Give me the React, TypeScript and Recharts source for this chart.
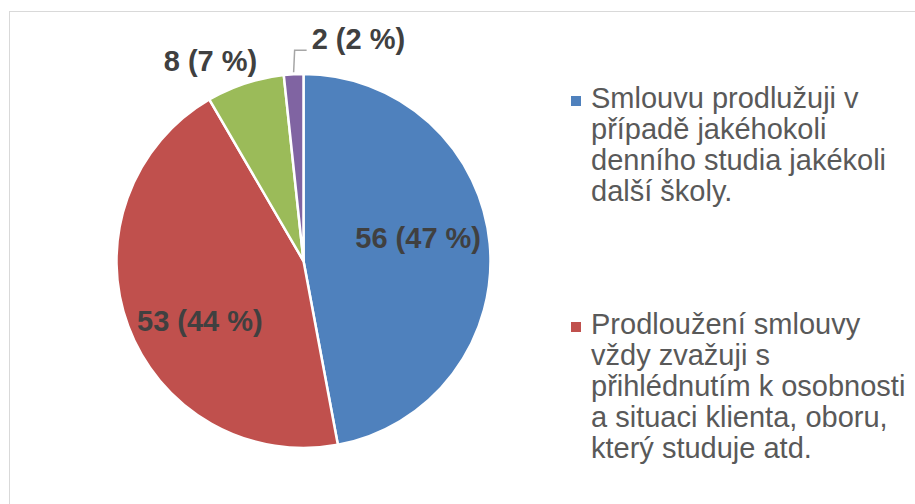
import React from 'react';
import { PieChart, Pie, Cell, Legend } from 'recharts';

// answers (only the first two legend entries are visible in the picture)
const categories = [
  'Smlouvu prodlužuji v případě jakéhokoli denního studia jakékoli další školy.',
  'Prodloužení smlouvy vždy zvažuji s přihlédnutím k osobnosti a situaci klienta, oboru, který studuje atd.',
  '',
  '',
];
const counts = [56, 53, 8, 2];
const colors = ['#4F81BD', '#C0504D', '#9BBB59', '#8064A2'];

// percentages rounded so that they add up to 100 (largest remainder)
const total = counts.reduce((s, v) => s + v, 0);
const raw = counts.map((v) => (v / total) * 100);
const pcts = raw.map(Math.floor);
raw
  .map((r, i) => ({ i, rem: r - Math.floor(r) }))
  .sort((a, b) => b.rem - a.rem)
  .slice(0, 100 - pcts.reduce((s, v) => s + v, 0))
  .forEach(({ i }) => (pcts[i] += 1));

const data = categories.map((name, i) => ({ name, value: counts[i], pct: pcts[i] }));

const FONT = '"Liberation Sans", Arial, sans-serif';
const RADIAN = Math.PI / 180;

const renderLabel = (props: any) => {
  const { cx, cy, midAngle, outerRadius, percent, value, index } = props;
  const text = `${value} (${pcts[index]} %)`;
  const style = { fontFamily: FONT, fontSize: 29, fontWeight: 700, fill: '#404040' };
  const ex = cx + outerRadius * Math.cos(-midAngle * RADIAN);
  const ey = cy + outerRadius * Math.sin(-midAngle * RADIAN);

  // big slices: label inside
  if (percent > 0.15) {
    const a = -(midAngle + 8) * RADIAN;
    const r = outerRadius * 0.63;
    return (
      <text key={`l-${index}`} x={cx + r * Math.cos(a)} y={cy + r * Math.sin(a)} dy={4}
        textAnchor="middle" dominantBaseline="central" {...style}>
        {text}
      </text>
    );
  }
  // mid slices: outside end
  if (percent > 0.04) {
    return (
      <text key={`l-${index}`} x={ex + 12} y={ey - 12} textAnchor="end" {...style}>
        {text}
      </text>
    );
  }
  // tiny slices: leader line
  return (
    <g key={`l-${index}`}>
      <path d={`M${ex},${ey - 2}L${ex + 1},${ey - 24}L${ex + 13},${ey - 24}`}
        stroke="#A6A6A6" strokeWidth={1.5} fill="none" />
      <text x={ex + 18} y={ey - 25} textAnchor="start" {...style}>{text}</text>
    </g>
  );
};

const renderLegend = () => (
  <div style={{ fontFamily: FONT, fontSize: 29, lineHeight: '31px', color: '#595959' }}>
    {categories.map((c, i) =>
      c ? (
        <div key={i} style={{ position: 'relative', paddingLeft: 20, width: 320, marginBottom: 102 }}>
          <span style={{ position: 'absolute', left: 0, top: 13, width: 10, height: 10, background: colors[i] }} />
          {c}
        </div>
      ) : null
    )}
  </div>
);

export default function App() {
  return (
    <div style={{ position: 'absolute', left: 0, top: 0, width: 915, height: 504, overflow: 'hidden', background: '#fff' }}>
      <div style={{ position: 'absolute', left: 9, top: 11, width: 1000, height: 600, border: '1px solid #D9D9D9' }} />
      <PieChart width={915} height={504} margin={{ top: 0, right: 0, bottom: 0, left: 0 }}>
        <Pie
          data={data}
          dataKey="value"
          nameKey="name"
          cx={303.5}
          cy={261}
          outerRadius={187}
          startAngle={90}
          endAngle={-270}
          stroke="#fff"
          strokeWidth={2.5}
          label={renderLabel}
          labelLine={false}
          isAnimationActive={false}
        >
          {data.map((d, i) => (
            <Cell key={i} fill={colors[i]} />
          ))}
        </Pie>
        <Legend content={renderLegend} wrapperStyle={{ left: 571, top: 83, width: 340 }} />
      </PieChart>
    </div>
  );
}
